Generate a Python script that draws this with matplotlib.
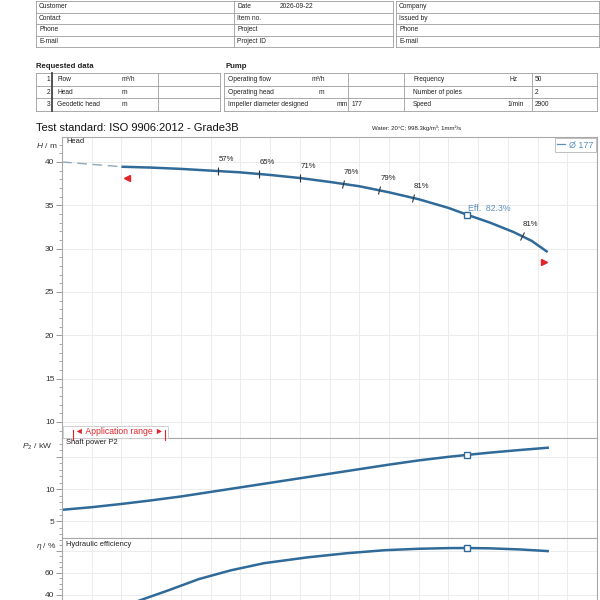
import numpy as np
import matplotlib
matplotlib.use("Agg")
import matplotlib.pyplot as plt
from matplotlib.lines import Line2D
from matplotlib.patches import Rectangle
from matplotlib.markers import MarkerStyle
from matplotlib.transforms import Affine2D, offset_copy

plt.rcParams['font.family'] = ['Liberation Sans', 'DejaVu Sans']
plt.rcParams['mathtext.fontset'] = 'custom'
plt.rcParams['mathtext.rm'] = 'Liberation Sans'
plt.rcParams['mathtext.it'] = 'Liberation Sans:italic'

# ---------------- data ----------------
customer_labels = ["Customer", "Contact", "Phone", "E-mail"]
project_labels = ["Date", "Item no.", "Project", "Project ID"]
project_values = ["2026-09-22", "", "", ""]
company_labels = ["Company", "Issued by", "Phone", "E-mail"]

req_numbers = ["1", "2", "3"]
req_labels = ["Flow", "Head", "Geodetic head"]
req_units = ["m\u00b3/h", "m", "m"]

pump_labels = ["Operating flow", "Operating head", "Impeller diameter designed"]
pump_units = ["m\u00b3/h", "m", "mm"]
pump_values = ["", "", "177"]

motor_labels = ["Frequency", "Number of poles", "Speed"]
motor_units = ["Hz", "", "1/min"]
motor_values = ["50", "2", "2900"]

title = "Test standard: ISO 9906:2012 - Grade3B"
fluid = "Water: 20\u00b0C; 998.3kg/m\u00b3; 1mm\u00b2/s"
impeller_label = "\u00d8 177"

# Flow (m3/h)
q_ext = [0, 10]
h_ext = [40.0, 39.45]
q_head = [10, 15, 20, 25, 30, 35, 40, 45, 50, 55, 60, 65, 68.2, 72, 76, 79, 81.7]
h_head = [39.45, 39.35, 39.2, 39.0, 38.8, 38.5, 38.15, 37.7, 37.2, 36.5, 35.7,
          34.7, 33.9, 33.0, 31.9, 30.9, 29.6]

q_power = [0, 5, 10, 15, 20, 25, 30, 35, 40, 45, 50, 55, 60, 65, 68.2, 72, 77, 81.7]
p_power = [6.8, 7.2, 7.7, 8.25, 8.85, 9.55, 10.25, 10.95, 11.65, 12.35, 13.05,
           13.75, 14.4, 14.95, 15.25, 15.6, 16.0, 16.35]

q_eff = [5, 10, 13, 18, 23, 28.4, 34, 41.3, 48, 54.3, 60, 65, 68.2, 72, 77, 81.7]
e_eff = [18, 28, 34.5, 44, 54, 62, 68.5, 73.8, 77.6, 80.3, 81.6, 82.2, 82.3, 82.0, 81.0, 79.5]

eff_tick_q = [26.3, 33.2, 40, 47.3, 53.4, 59, 77.3]
eff_tick_labels = ["57%", "65%", "71%", "76%", "79%", "81%", "81%"]

duty_q = 68.2
duty_h = 33.9
duty_p = 15.25
duty_e = 82.3

app_range_q = [10.7, 81.2]

# ---------------- figure ----------------
fig = plt.figure(figsize=(6, 6), dpi=100)
fig.patch.set_facecolor('white')

def fx(x):
    return x / 600.0

def fy(y):
    return 1 - y / 600.0

LC = '#9c9c9c'
TC = '#222222'

def hline(x0, x1, y, lw=0.6, c=LC):
    fig.add_artist(Line2D([fx(x0), fx(x1)], [fy(y), fy(y)], transform=fig.transFigure,
                          lw=lw, color=c))

def vline(x, y0, y1, lw=0.6, c=LC):
    fig.add_artist(Line2D([fx(x), fx(x)], [fy(y0), fy(y1)], transform=fig.transFigure,
                          lw=lw, color=c))

def txt(x, y, s, size=4.8, **kw):
    kw.setdefault('va', 'center')
    kw.setdefault('color', TC)
    fig.text(fx(x), fy(y), s, fontsize=size, **kw)

# top tables
rows_top = [1, 12.5, 24, 35.5, 47]
for y in rows_top:
    hline(36, 393, y)
    hline(396, 599, y)
for x in (36, 234, 393):
    vline(x, rows_top[0], rows_top[-1])
for x in (396, 599):
    vline(x, rows_top[0], rows_top[-1])
for i in range(4):
    yc = (rows_top[i] + rows_top[i + 1]) / 2
    txt(39, yc, customer_labels[i])
    txt(237, yc, project_labels[i])
    txt(280, yc, project_values[i])
    txt(399, yc, company_labels[i])

# requested data
txt(36, 67, "Requested data", size=5.6, weight='bold')
txt(226, 67, "Pump", size=5.6, weight='bold')
rows_req = [73, 85.7, 98.3, 111]
for y in rows_req:
    hline(36, 220, y)
    hline(224, 597, y)
for x in (36, 158, 220):
    vline(x, rows_req[0], rows_req[-1])
vline(52, rows_req[0], rows_req[-1], lw=1.3, c='#444444')
for x in (224, 348, 404, 532, 597):
    vline(x, rows_req[0], rows_req[-1])
pump_unit_x = [312, 319, 337]
motor_unit_x = [510, 510, 508]
for i in range(3):
    yc = (rows_req[i] + rows_req[i + 1]) / 2
    txt(50, yc, req_numbers[i], ha='right')
    txt(57, yc, req_labels[i])
    txt(122, yc, req_units[i])
    txt(228, yc, pump_labels[i])
    txt(pump_unit_x[i], yc, pump_units[i])
    txt(352, yc, pump_values[i])
    txt(413, yc, motor_labels[i])
    txt(motor_unit_x[i], yc, motor_units[i])
    txt(535, yc, motor_values[i])

txt(36, 128, title, size=8.0, color='#111111')
txt(372, 128, fluid, size=4.3)

# ---------------- axes ----------------
L, R = 62, 597
ax_h = fig.add_axes([fx(L), fy(438), (R - L) / 600, (438 - 137) / 600])
ax_p = fig.add_axes([fx(L), fy(538), (R - L) / 600, (538 - 438) / 600])
ax_e = fig.add_axes([fx(L), fy(638.5), (R - L) / 600, (638.5 - 538) / 600])

for ax in (ax_h, ax_p, ax_e):
    ax.set_xlim(0, 90)
    ax.set_xticks(np.arange(0, 91, 5))
    ax.tick_params(axis='x', length=0, labelbottom=False)
    ax.tick_params(axis='y', which='major', length=4, width=0.7, color='#999999',
                   labelsize=6, pad=1.5, labelcolor='#333333')
    ax.tick_params(axis='y', which='minor', length=2.2, width=0.6, color='#999999')
    ax.grid(True, which='major', color='#ececec', lw=0.7)
    ax.set_axisbelow(True)
    for s in ax.spines.values():
        s.set_color('#a8a8a8')
        s.set_linewidth(0.8)

ax_h.set_ylim(8.15, 42.88)
ax_h.set_yticks(np.arange(10, 41, 5))
ax_h.set_yticks(np.arange(9, 43, 1), minor=True)

ax_p.set_ylim(2.46, 17.85)
ax_p.set_yticks([5, 10, 15])
ax_p.set_yticklabels(['5', '10', ''])
ax_p.set_yticks(np.arange(3, 18, 1), minor=True)

ax_e.set_ylim(0, 91.4)
ax_e.set_yticks([0, 20, 40, 60, 80])
ax_e.set_yticklabels(['', '', '40', '60', ''])
ax_e.set_yticks(np.arange(0, 91, 5), minor=True)

CURVE = '#2f6a99'
LIGHT = '#5b8fc0'

# head
ax_h.plot(q_ext, h_ext, color='#8ea8be', lw=1.0, dashes=(7, 4))
ax_h.plot(q_head, h_head, color=CURVE, lw=1.8, solid_capstyle='butt')
ax_h.plot([duty_q], [duty_h], marker='s', ms=4, mfc='white', mec=CURVE, mew=1.0, ls='none')
ax_h.annotate("Eff.  82.3%", (duty_q, duty_h), xytext=(0.5, 1.5), textcoords='offset points',
              ha='left', va='bottom', fontsize=6.3, color=LIGHT)

# efficiency ticks on head curve
pxq = (R - L) / 90.0
pxh = (438 - 137) / (42.88 - 8.15)
for q, lab in zip(eff_tick_q, eff_tick_labels):
    h = np.interp(q, q_head, h_head)
    slope = (np.interp(q + 1, q_head, h_head) - np.interp(q - 1, q_head, h_head)) / 2
    ang = np.degrees(np.arctan(slope * pxh / pxq))
    m = MarkerStyle('|', transform=Affine2D().rotate_deg(ang))
    ax_h.plot([q], [h], marker=m, ms=6, mew=0.8, color='#333333', ls='none')
    ax_h.annotate(lab, (q, h), xytext=(0.5, 8.5), textcoords='offset points',
                  ha='left', va='center', fontsize=5.6, color='#222222')

# application range markers
RED = '#e0252b'
h0 = np.interp(app_range_q[0], q_head, h_head)
h1 = np.interp(app_range_q[1], q_head, h_head)
tr_l = offset_copy(ax_h.transData, fig=fig, x=1, y=-11, units='dots')
tr_r = offset_copy(ax_h.transData, fig=fig, x=-1, y=-12, units='dots')
ax_h.plot([app_range_q[0]], [h0], marker='<', ms=4.5, color=RED, mec=RED, transform=tr_l, ls='none')
ax_h.plot([app_range_q[1]], [h1], marker='>', ms=4.5, color=RED, mec=RED, transform=tr_r, ls='none')

# legend
proxy = Line2D([0], [0], color=LIGHT, lw=0.9)
leg = ax_h.legend([proxy], [impeller_label], loc='upper right', fontsize=6.5, frameon=True,
                  fancybox=False, edgecolor='#b0b0b0', handlelength=0.9, handletextpad=0.4,
                  borderpad=0.25, borderaxespad=0.15, labelcolor=LIGHT)
leg.get_frame().set_linewidth(0.7)

# power
ax_p.plot(q_power, p_power, color=CURVE, lw=1.8)
ax_p.plot([duty_q], [duty_p], marker='s', ms=4, mfc='white', mec=CURVE, mew=1.0, ls='none')

# efficiency
ax_e.plot(q_eff, e_eff, color=CURVE, lw=1.8)
ax_e.plot([duty_q], [duty_e], marker='s', ms=4, mfc='white', mec=CURVE, mew=1.0, ls='none')

# panel titles and axis labels
txt(66, 141.5, "Head", size=5.4)
txt(66, 442.5, "Shaft power P2", size=5.4)
txt(66, 544, "Hydraulic efficiency", size=5.4)
txt(57, 145, "$H$ / m", size=6, ha='right', color='#333333')
txt(52, 447, "$P_2$ / kW", size=6, ha='right', color='#333333')
txt(57, 547, "$\\eta$ / %", size=6, ha='right', color='#333333')

# application range box
fig.add_artist(Rectangle((fx(63), fy(438)), (168 - 63) / 600, 12 / 600, transform=fig.transFigure,
                         facecolor='white', edgecolor='#c8c8c8', lw=0.6))
vline(73, 430, 440, lw=0.8, c=RED)
vline(165, 430, 440, lw=0.8, c=RED)
txt(119, 432, "\u25c4 Application range \u25ba", size=6.2, ha='center', color=RED,
    family=['Liberation Sans', 'DejaVu Sans'])

fig.savefig("out.png", dpi=100, facecolor='white')
